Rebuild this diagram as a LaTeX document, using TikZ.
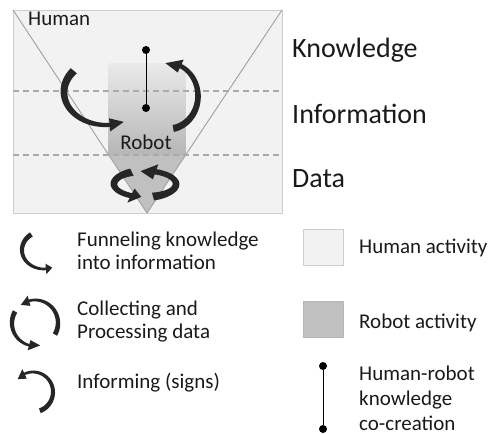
\documentclass[tikz,border=0pt]{standalone}
\usepackage{fontspec}
\setmainfont{Carlito}
\usepackage{tikz}
\definecolor{paper}{RGB}{242,242,242}
\definecolor{rim}{RGB}{206,206,206}
\definecolor{edge}{RGB}{160,160,160}
\definecolor{dashgray}{RGB}{170,170,170}
\definecolor{robotlight}{RGB}{234,234,234}
\definecolor{robotdark}{RGB}{182,182,182}
\definecolor{robot}{RGB}{192,192,192}
\definecolor{ink}{RGB}{26,26,26}
\definecolor{swirlink}{RGB}{38,38,38}

% tapered curved arrow along an ellipse:
% centre #1,#2  radii #3,#4  tail angle #5  body end #6  tip angle #7
% width at tail #8  width at body end #9
\newcommand{\swirl}[9]{%
  \pgfmathsetmacro{\hw}{0.9*#9+3}%
  \fill[swirlink]
    plot[domain=#5:#6, samples=36, variable=\t]
      ({#1+(#3+(#8+(#9-#8)*(\t-(#5))/((#6)-(#5)))/2)*cos(\t)},
       {#2+(#4+(#8+(#9-#8)*(\t-(#5))/((#6)-(#5)))/2)*sin(\t)})
    -- ({#1+(#3+\hw)*cos(#6)}, {#2+(#4+\hw)*sin(#6)})
    -- ({#1+#3*cos(#7)}, {#2+#4*sin(#7)})
    -- ({#1+(#3-\hw)*cos(#6)}, {#2+(#4-\hw)*sin(#6)})
    -- plot[domain=#6:#5, samples=36, variable=\t]
      ({#1+(#3-(#8+(#9-#8)*(\t-(#5))/((#6)-(#5)))/2)*cos(\t)},
       {#2+(#4-(#8+(#9-#8)*(\t-(#5))/((#6)-(#5)))/2)*sin(\t)})
    -- cycle;}

\begin{document}
\begin{tikzpicture}[
  x=1pt, y=-1pt,
  level/.style={anchor=west, inner sep=0pt, text=ink,
                font=\fontsize{28}{32}\selectfont},
  legend/.style={anchor=west, inner sep=0pt, text=ink, align=left,
                 font=\fontsize{21}{23}\selectfont},
  tag/.style={inner sep=0pt, text=ink, font=\fontsize{21}{24}\selectfont},
  dot/.style={circle, fill=black, inner sep=0pt, minimum size=8pt},
  swatch/.style={draw=rim, minimum width=40pt, minimum height=36pt},
  guide/.style={draw=dashgray, line width=1.5pt, dash pattern=on 6pt off 4pt},
  funnel/.style={draw=edge, line width=0.9pt},
]
  \useasboundingbox (0,0) rectangle (488,434);

  % human field and the robot share of it
  \draw[rim, fill=paper] (13,10) rectangle (282,213);
  \shade[top color=robotlight, bottom color=robotdark] (108.7,63) rectangle (185.6,155);
  \fill[robot] (108.7,155) -- (147,213) -- (185.6,155) -- cycle;
  \draw[funnel] (13,10) -- (147,213) -- (282,10);

  % level borders
  \draw[guide] (13,91) -- (282,91);
  \draw[guide] (13,155) -- (282,155);

  \node[tag, anchor=west] (human) at (28,19) {Human};
  \node[tag] (robot) at (146,142) {Robot};

  % co-creation link
  \node[dot] (kTop) at (146,50) {};
  \node[dot] (kBot) at (146,108) {};
  \draw[black, line width=0.9pt] (kTop) -- (kBot);

  % funneling, informing and the data loop
  \swirl{106}{92}{42}{33}{220}{85}{65}{8}{4}
  \swirl{168}{96}{30}{33}{80}{-65}{-95}{7}{4.5}
  \swirl{145}{184}{31}{13}{75}{-70}{-98}{8}{5.5}
  \swirl{145}{184}{31}{13}{-115}{-243}{-263}{8}{5.5}

  \node[level] (know) at (292,50) {Knowledge};
  \node[level] (info) at (292,114) {Information};
  \node[level] (data) at (292,179) {Data};

  % legend, left column
  \swirl{44}{250}{22}{19}{235}{85}{68}{5}{2.5}
  \node[legend] (funnelTxt) at (77,251) {Funneling knowledge\\into information};
  \swirl{35}{323}{23}{23}{30}{-105}{-128}{5}{2.5}
  \swirl{35}{323}{23}{23}{-150}{-255}{-283}{5}{2.5}
  \node[legend] (loopTxt) at (77,322) {Collecting and\\Processing data};
  \swirl{33}{392}{20}{20}{70}{-115}{-140}{5}{2.5}
  \node[legend] (signTxt) at (77,383) {Informing (signs)};

  % legend, right column
  \node[swatch, fill=paper] (humanKey) at (323,247) {};
  \node[legend] (humanTxt) at (359,248) {Human activity};
  \node[swatch, draw=robotdark, fill=robot] (robotKey) at (323,319) {};
  \node[legend] (robotTxt) at (359,323) {Robot activity};
  \node[dot] (keyTop) at (323,366) {};
  \node[dot] (keyBot) at (323,429) {};
  \draw[black, line width=0.9pt] (keyTop) -- (keyBot);
  \node[legend, font=\fontsize{21}{25}\selectfont] (linkTxt) at (359,398)
    {Human-robot\\knowledge\\co-creation};
\end{tikzpicture}
\end{document}
